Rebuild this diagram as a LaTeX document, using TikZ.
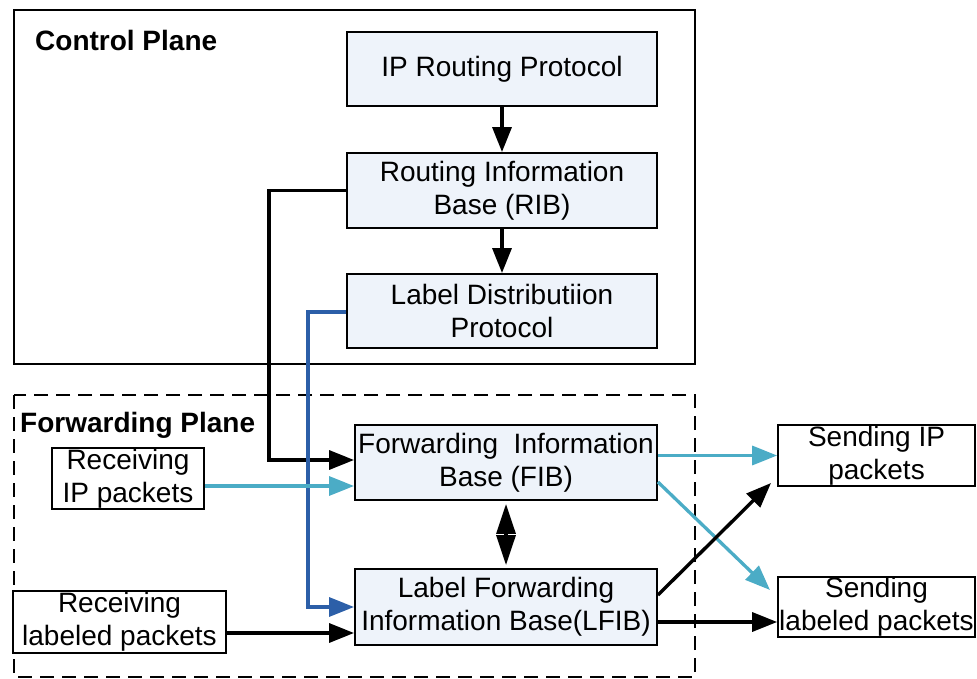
\documentclass[tikz,border=0pt]{standalone}
\usepackage{fontspec}
\setmainfont{Liberation Sans}
\usetikzlibrary{arrows.meta,calc}
\definecolor{boxfill}{HTML}{EEF3FA}
\definecolor{ipcyan}{HTML}{4BACC6}
\definecolor{ldpblue}{HTML}{2C5FA8}
\begin{document}
\begin{tikzpicture}[x=1pt,y=-1pt,
  every node/.style={font=\fontsize{28}{33}\selectfont, align=center, inner sep=0pt},
  core/.style={draw=black, line width=1.9pt, fill=boxfill},
  endbox/.style={draw=black, line width=1.7pt, fill=white},
  plane/.style={draw=black, line width=2.2pt},
  planelabel/.style={anchor=west, font=\fontsize{28}{33}\selectfont\bfseries},
  tip/.style={-{Triangle[length=25pt,width=19pt]}},
  link/.style={tip, line width=3.4pt, draw=black},
  iplink/.style={tip, line width=3.3pt, draw=ipcyan},
  ldplink/.style={tip, line width=3.2pt, draw=ldpblue}]
\useasboundingbox (0,0) rectangle (977,679);

% the two planes
\draw[plane] (14,10) rectangle (695,364);
\draw[plane, dashed, dash pattern=on 14pt off 8pt] (14,395) rectangle (695,677);
\node[planelabel] (cplabel) at (35,40) {Control Plane};
\node[planelabel] (fplabel) at (20,425) {Forwarding Plane};

% control plane blocks
\node[core, minimum width=310pt, minimum height=74pt] (ipr) at (502,69) {IP Routing Protocol};
\node[core, minimum width=310pt, minimum height=75pt] (rib) at (502,190.5) {Routing Information\\Base (RIB)};
\node[core, minimum width=310pt, minimum height=74pt] (ldp) at (502,311) {Label Distributiion\\Protocol};

% forwarding plane blocks
\node[core, minimum width=302pt, minimum height=75pt] (fib) at (506,462.5) {Forwarding~~Information\\Base (FIB)};
\node[core, minimum width=302pt, minimum height=76pt] (lfib) at (506,607) {Label Forwarding\\Information Base(LFIB)};

% packet sources and sinks
\node[endbox, minimum width=152pt, minimum height=61pt] (rip) at (128,478.5) {Receiving\\IP packets};
\node[endbox, minimum width=213pt, minimum height=62pt] (rlp) at (119.5,622) {Receiving\\labeled packets};
\node[endbox, minimum width=197pt, minimum height=61pt] (sip) at (876.5,455.5) {Sending IP\\packets};
\node[endbox, minimum width=197pt, minimum height=60pt] (slp) at (876.5,607) {Sending\\labeled packets};

% control plane flow
\draw[link] (ipr.south) -- (rib.north);
\draw[link] (rib.south) -- (ldp.north);
\coordinate (fibctl) at ([yshift=2.5pt]fib.west);
\draw[link] (rib.west) -- ++(-77,0) |- (fibctl);
\coordinate (lfibctl) at (lfib.west);
\draw[ldplink] ([yshift=-1pt]ldp.west) -- ++(-38,0) |- (lfibctl);

% incoming packets
\coordinate (fibin) at ([yshift=-23.5pt]fib.west);
\draw[iplink] (rip.east |- fibin) -- (fibin);
\coordinate (lfibin) at ([yshift=-26pt]lfib.west);
\draw[link] (rlp.east |- lfibin) -- (lfibin);

% FIB <-> LFIB: two heads meeting in the middle
\draw[line width=3.4pt, shorten <=3pt, shorten >=3pt,
      {Triangle[length=30pt,width=19pt]}-{Triangle[length=30pt,width=19pt]}] (fib.south) -- (lfib.north);

% outgoing packets
\coordinate (fibout) at (fib.east |- sip.west);
\draw[iplink] (fibout) -- (sip.west);
\coordinate (fibdiag) at ([yshift=-19.5pt]fib.east);
\coordinate (slptip) at (770,590);
\draw[iplink] (fibdiag) -- (slptip);
\coordinate (lfibdiag) at ([yshift=12pt]lfib.east);
\coordinate (siptip) at (771,483);
\draw[link] (lfibdiag) -- (siptip);
\coordinate (lfibout) at ([yshift=-15pt]lfib.east);
\draw[link] (lfibout) -- (slp.west |- lfibout);
\end{tikzpicture}
\end{document}
